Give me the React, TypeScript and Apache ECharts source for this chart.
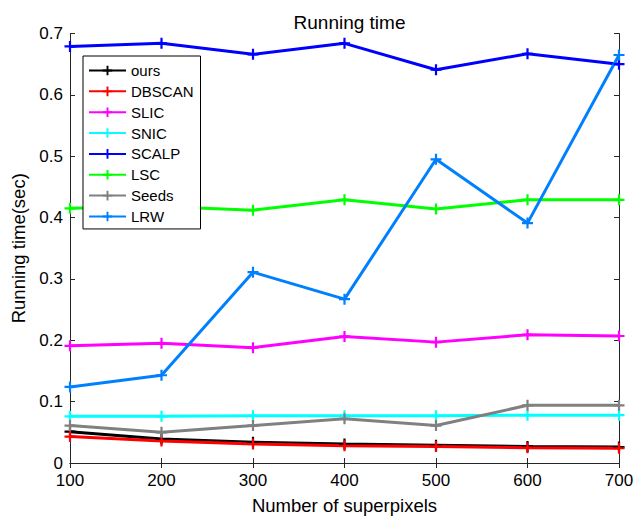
import React, { useEffect, useRef } from "react";
import * as echarts from "echarts";

const superpixels = [100, 200, 300, 400, 500, 600, 700];
const methodNames = ["ours", "DBSCAN", "SLIC", "SNIC", "SCALP", "LSC", "Seeds", "LRW"];
const methodColors = ["#000000", "#ff0000", "#ff00ff", "#00ffff", "#0000ff", "#00ff00", "#808080", "#0080ff"];

const oursTime = [0.051, 0.039, 0.034, 0.031, 0.029, 0.027, 0.026];
const dbscanTime = [0.043, 0.036, 0.031, 0.028, 0.027, 0.025, 0.024];
const slicTime = [0.191, 0.195, 0.188, 0.206, 0.197, 0.209, 0.207];
const snicTime = [0.076, 0.076, 0.077, 0.077, 0.077, 0.078, 0.078];
const scalpTime = [0.679, 0.684, 0.666, 0.684, 0.641, 0.667, 0.650];
const lscTime = [0.415, 0.418, 0.412, 0.429, 0.414, 0.429, 0.429];
const seedsTime = [0.061, 0.050, 0.061, 0.072, 0.061, 0.094, 0.094];
const lrwTime = [0.124, 0.143, 0.311, 0.267, 0.495, 0.391, 0.665];

const allTimes = [oursTime, dbscanTime, slicTime, snicTime, scalpTime, lscTime, seedsTime, lrwTime];

const PLUS = "path://M-1,-5 H1 V-1 H5 V1 H1 V5 H-1 V1 H-5 V-1 H-1 Z";
const FONT = "Liberation Sans, Arial, Helvetica, sans-serif";
const AXC = "#262626";

export default function App() {
  const ref = useRef<HTMLDivElement>(null);
  useEffect(() => {
    document.body.style.margin = "0";
    if (!ref.current) return;
    const chart = echarts.init(ref.current, undefined, { renderer: "svg" });
    const series = methodNames.map((name, i) => ({
      name,
      type: "line",
      data: superpixels.map((x, j) => [x, allTimes[i][j]]),
      symbol: PLUS,
      symbolSize: 11,
      showSymbol: true,
      lineStyle: { color: methodColors[i], width: 3 },
      itemStyle: { color: methodColors[i] },
      emphasis: { disabled: true },
    }));
    chart.setOption({
      animation: false,
      backgroundColor: "#ffffff",
      textStyle: { fontFamily: FONT },
      title: {
        text: "Running time",
        left: 344.5,
        textAlign: "center",
        top: 7.5,
        textStyle: { fontSize: 19, fontWeight: "normal", color: "#000", fontFamily: FONT },
      },
      grid: { left: 70, right: 25, top: 33.5, bottom: 52.5 },
      legend: {
        orient: "vertical",
        left: 83,
        top: 56,
        padding: [7, 7, 5, 5],
        itemGap: 5.85,
        itemWidth: 37,
        itemHeight: 12,
        backgroundColor: "#ffffff",
        borderColor: "#000000",
        borderWidth: 1,
        borderRadius: 0,
        data: methodNames,
        textStyle: { fontSize: 15, color: "#000", fontFamily: FONT, lineHeight: 15 },
      },
      xAxis: [
        {
          type: "value",
          min: 100,
          max: 700,
          interval: 100,
          name: "Number of superpixels",
          nameLocation: "middle",
          nameGap: 33,
          nameTextStyle: { fontSize: 18.5, color: "#000", fontFamily: FONT },
          axisLine: { show: true, lineStyle: { color: AXC, width: 1 } },
          axisTick: { show: true, inside: true, length: 5, lineStyle: { color: AXC } },
          axisLabel: { fontSize: 17, color: "#000", margin: 9, fontFamily: FONT },
          splitLine: { show: false },
        },
        {
          type: "value",
          position: "top",
          min: 100,
          max: 700,
          interval: 100,
          axisLine: { show: true, lineStyle: { color: AXC, width: 1 } },
          axisTick: { show: true, inside: true, length: 5, lineStyle: { color: AXC } },
          axisLabel: { show: false },
          splitLine: { show: false },
        },
      ],
      yAxis: [
        {
          type: "value",
          min: 0,
          max: 0.7,
          interval: 0.1,
          name: "Running time(sec)",
          nameLocation: "middle",
          nameGap: 37,
          nameTextStyle: { fontSize: 18.5, color: "#000", fontFamily: FONT },
          axisLine: { show: true, lineStyle: { color: AXC, width: 1 } },
          axisTick: { show: true, inside: true, length: 5, lineStyle: { color: AXC } },
          axisLabel: {
            fontSize: 17,
            color: "#000",
            margin: 7,
            fontFamily: FONT,
            formatter: (v: number) => (v === 0 ? "0" : v.toFixed(1)),
          },
          splitLine: { show: false },
        },
        {
          type: "value",
          position: "right",
          min: 0,
          max: 0.7,
          interval: 0.1,
          axisLine: { show: true, lineStyle: { color: AXC, width: 1 } },
          axisTick: { show: true, inside: true, length: 5, lineStyle: { color: AXC } },
          axisLabel: { show: false },
          splitLine: { show: false },
        },
      ],
      series,
    });
    return () => chart.dispose();
  }, []);
  return <div ref={ref} style={{ width: 644, height: 520 }} />;
}
